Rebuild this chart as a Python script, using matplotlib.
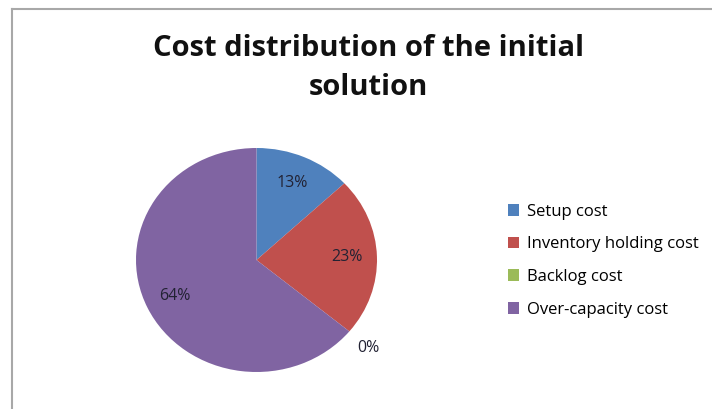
import matplotlib.pyplot as plt
import numpy as np

categories = ['Setup cost', 'Inventory holding cost', 'Backlog cost', 'Over-capacity cost']
shares = [13, 23, 0, 64]
colors = ['#4F81BD', '#C0504D', '#9BBB59', '#8064A2']

plt.rcParams['font.family'] = ['Open Sans', 'DejaVu Sans']

fig = plt.figure(figsize=(7.12, 4.09), dpi=100)

# chart frame (top and left edges visible in the reference)
fig.add_artist(plt.Line2D([12 / 712, 12 / 712], [0, 1 - 9 / 409], color='#a8a8a8', lw=1.5))
fig.add_artist(plt.Line2D([12 / 712, 1], [1 - 9 / 409, 1 - 9 / 409], color='#a8a8a8', lw=1.5))

fig.text(368 / 712, 1 - 68 / 409, 'Cost distribution of the initial\nsolution',
         ha='center', va='center', fontsize=21, fontweight='bold', color='#111111',
         linespacing=1.42)

ax = fig.add_axes([136 / 712, (409 - 372) / 409, 241 / 712, 224 / 409])
wedges, texts, autotexts = ax.pie(shares, colors=colors, startangle=90, counterclock=False,
                                  autopct='%d%%', pctdistance=0.75,
                                  textprops=dict(fontsize=11.5, color='#222233'))
ax.set_aspect('auto')
ax.set_xlim(-1, 1)
ax.set_ylim(-1, 1)

# Excel pushes the empty slice label outside the pie
for w, t, v in zip(wedges, autotexts, shares):
    if v == 0:
        ang = np.deg2rad((w.theta1 + w.theta2) / 2)
        t.set_position((1.2 * np.cos(ang), 1.2 * np.sin(ang) - 0.02))

fig.legend(wedges, categories, loc='upper left', bbox_to_anchor=(501 / 712, 1 - 197 / 409),
           frameon=False, fontsize=12, handlelength=0.7, handleheight=0.7,
           handletextpad=0.45, labelspacing=1.0, borderaxespad=0)

fig.savefig('out.png', dpi=100)
